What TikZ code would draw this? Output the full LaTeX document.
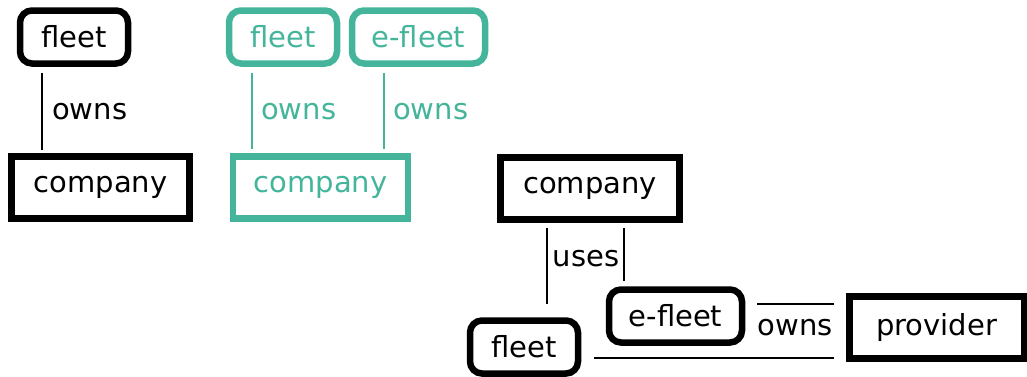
\documentclass[tikz,border=0pt]{standalone}
\usepackage{fontspec}
\setmainfont{DejaVu Sans}
\definecolor{teal}{HTML}{44B59A}
\begin{document}
\begin{tikzpicture}[x=1pt,y=-1pt,
  every node/.style={font=\fontsize{29}{32}\selectfont, inner sep=0pt},
  entity/.style={draw, line width=7pt, minimum height=62pt},
  rolebox/.style={draw, line width=6.5pt, rounded corners=12pt, minimum height=53pt},
  link/.style={line width=1.3pt},
  lbl/.style={anchor=west},
  hl/.style={draw=teal, text=teal}
]
\useasboundingbox (0,0) rectangle (1027,376);

% --- single fleet owned by a company
\node[rolebox, minimum width=108pt] (fleetA) at (74,37) {fleet};
\node[entity, minimum width=178pt] (compA) at (100.5,187.5) {company};
\coordinate (xa) at (42,0);
\draw[link] (fleetA.south -| xa) ++(0,6) -- ([yshift=3pt]compA.north -| xa);
\node[lbl] (ownsA) at (52,112) {owns};

% --- fleet and e-fleet both owned by a company
\node[rolebox, hl, minimum width=108pt] (fleetB) at (283,37) {fleet};
\node[rolebox, hl, minimum width=133pt] (efleetB) at (418.5,37) {e-fleet};
\node[entity, hl, line width=6.5pt, minimum width=175pt] (compB) at (320.5,187.5) {company};
\coordinate (xb1) at (252,0);
\coordinate (xb2) at (384,0);
\draw[link, teal] (fleetB.south -| xb1) ++(0,6) -- ([yshift=4pt]compB.north -| xb1);
\draw[link, teal] (efleetB.south -| xb2) ++(0,6) -- ([yshift=4pt]compB.north -| xb2);
\node[lbl, text=teal] (ownsB1) at (261,112) {owns};
\node[lbl, text=teal] (ownsB2) at (393,112) {owns};

% --- company uses fleets, e-fleet owned by a provider
\node[entity, minimum width=179pt] (compC) at (590,188) {company};
\node[rolebox, minimum width=133pt] (efleetC) at (675.5,316) {e-fleet};
\node[rolebox, minimum width=108pt] (fleetC) at (524,347) {fleet};
\node[entity, minimum width=175pt] (prov) at (936.5,327.5) {provider};
\coordinate (xc1) at (547,0);
\coordinate (xc2) at (624,0);
\draw[link] ([yshift=-5pt]compC.south -| xc1) -- ([yshift=13pt]fleetC.north -| xc1);
\draw[link] ([yshift=-5pt]compC.south -| xc2) -- ([yshift=5pt]efleetC.north -| xc2);
\node (uses) at (586,259) {uses};
\coordinate (yp1) at (0,304);
\coordinate (yp2) at (0,358);
\draw[link] ([xshift=12pt]efleetC.east |- yp1) -- ([xshift=-12pt]prov.west |- yp1);
\draw[link] ([xshift=13pt]fleetC.east |- yp2) -- ([xshift=-12pt]prov.west |- yp2);
\node (ownsC) at (795,328) {owns};
\end{tikzpicture}
\end{document}
